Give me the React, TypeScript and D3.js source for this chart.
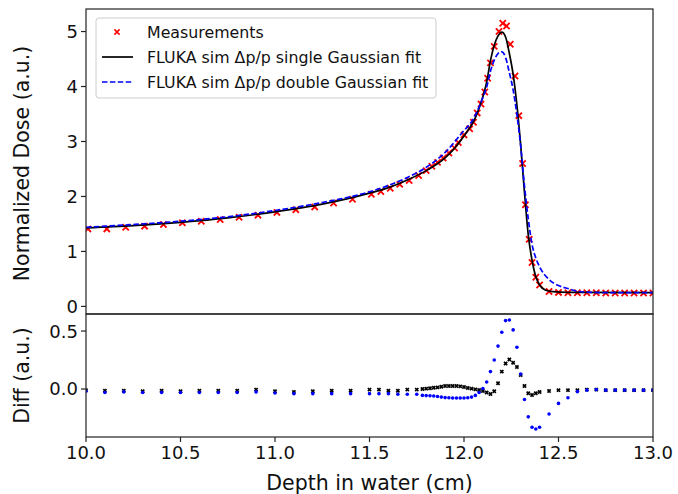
import React from "react";
import * as d3 from "d3";

// ---- data ----
const measDepth = [10.01, 10.11, 10.21, 10.31, 10.41, 10.51, 10.61, 10.71, 10.81, 10.91, 11.01, 11.11, 11.21, 11.31, 11.41, 11.51, 11.56, 11.61, 11.66, 11.71, 11.76, 11.8, 11.83, 11.86, 11.89, 11.92, 11.95, 11.97, 12.0, 12.03, 12.05, 12.07, 12.09, 12.11, 12.125, 12.14, 12.16, 12.185, 12.205, 12.225, 12.245, 12.27, 12.29, 12.31, 12.325, 12.345, 12.36, 12.38, 12.4, 12.45, 12.5, 12.55, 12.6, 12.65, 12.7, 12.75, 12.8, 12.85, 12.9, 12.95, 13.0];
const measDose = [1.41, 1.41, 1.44, 1.46, 1.49, 1.52, 1.55, 1.58, 1.62, 1.66, 1.71, 1.76, 1.81, 1.88, 1.95, 2.04, 2.09, 2.15, 2.22, 2.29, 2.38, 2.47, 2.55, 2.62, 2.7, 2.79, 2.88, 2.98, 3.12, 3.23, 3.35, 3.52, 3.68, 3.9, 4.15, 4.43, 4.73, 5.0, 5.15, 5.1, 4.77, 4.19, 3.47, 2.6, 1.85, 1.22, 0.8, 0.53, 0.39, 0.27, 0.255, 0.25, 0.25, 0.25, 0.25, 0.245, 0.245, 0.245, 0.245, 0.245, 0.245];

const singleDepth = [10.0, 10.25, 10.5, 10.75, 11.0, 11.25, 11.5, 11.6, 11.7, 11.8, 11.9, 12.0, 12.06, 12.1, 12.12, 12.14, 12.16, 12.18, 12.2, 12.22, 12.24, 12.26, 12.28, 12.3, 12.32, 12.34, 12.36, 12.38, 12.4, 12.43, 12.47, 12.55, 13.0];
const singleDose = [1.43, 1.47, 1.53, 1.61, 1.72, 1.86, 2.06, 2.16, 2.3, 2.47, 2.7, 3.1, 3.43, 3.82, 4.08, 4.47, 4.75, 4.92, 4.99, 4.9, 4.6, 4.22, 3.66, 2.93, 2.07, 1.3, 0.84, 0.54, 0.39, 0.3, 0.27, 0.255, 0.25];

const doubleDepth = [10.0, 10.25, 10.5, 10.75, 11.0, 11.25, 11.5, 11.6, 11.7, 11.8, 11.9, 12.0, 12.04, 12.08, 12.1, 12.12, 12.14, 12.16, 12.18, 12.2, 12.22, 12.24, 12.26, 12.28, 12.3, 12.32, 12.34, 12.36, 12.38, 12.4, 12.45, 12.5, 12.55, 12.6, 12.65, 12.75, 13.0];
const doubleDose = [1.44, 1.49, 1.55, 1.63, 1.745, 1.89, 2.085, 2.2, 2.345, 2.53, 2.8, 3.2, 3.36, 3.63, 3.8, 3.99, 4.28, 4.48, 4.6, 4.63, 4.53, 4.25, 3.94, 3.49, 2.92, 2.19, 1.59, 1.13, 0.88, 0.72, 0.49, 0.38, 0.325, 0.275, 0.26, 0.25, 0.25];

const diffDepth = [10.0, 10.1, 10.2, 10.3, 10.4, 10.5, 10.6, 10.7, 10.8, 10.9, 11.0, 11.1, 11.2, 11.3, 11.4, 11.5, 11.55, 11.6, 11.65, 11.7, 11.75,
  11.78, 11.8, 11.82, 11.84, 11.86, 11.88, 11.9, 11.92, 11.94, 11.96, 11.98, 12.0, 12.02, 12.04, 12.06, 12.08, 12.1, 12.12, 12.14, 12.16, 12.18, 12.2, 12.22, 12.24, 12.26, 12.28, 12.3, 12.32, 12.34, 12.36, 12.38, 12.4,
  12.45, 12.5, 12.55, 12.6, 12.65, 12.7, 12.75, 12.8, 12.85, 12.9, 12.95, 13.0];
const diffSingle = [-0.01, -0.015, -0.015, -0.02, -0.015, -0.02, -0.015, -0.015, -0.015, -0.005, -0.02, -0.025, -0.02, -0.015, -0.015, -0.005, -0.005, -0.015, -0.015, -0.005, -0.005,
  0.0, 0.003, 0.006, 0.011, 0.014, 0.02, 0.026, 0.026, 0.026, 0.026, 0.023, 0.017, 0.009, 0.003, -0.003, -0.009, -0.017, -0.03, -0.043, -0.02, 0.05, 0.15, 0.22, 0.255, 0.227, 0.19, 0.12, 0.026, -0.037, -0.052, -0.037, -0.026,
  -0.017, -0.01, -0.01, -0.01, -0.005, -0.005, -0.01, -0.01, -0.01, -0.01, -0.01, -0.01];
const diffDouble = [-0.02, -0.03, -0.025, -0.03, -0.03, -0.03, -0.03, -0.03, -0.03, -0.025, -0.035, -0.04, -0.04, -0.04, -0.04, -0.04, -0.04, -0.04, -0.045, -0.045, -0.045,
  -0.055, -0.057, -0.058, -0.06, -0.065, -0.07, -0.074, -0.076, -0.077, -0.077, -0.077, -0.077, -0.075, -0.07, -0.055, -0.03, 0.005, 0.06, 0.15, 0.25, 0.37, 0.49, 0.59, 0.595, 0.51, 0.36, 0.13, -0.09, -0.24, -0.33, -0.345, -0.33,
  -0.215, -0.124, -0.075, -0.023, -0.01, -0.005, -0.01, -0.01, -0.01, -0.01, -0.01, -0.01];

const xTicks = [10.0, 10.5, 11.0, 11.5, 12.0, 12.5, 13.0];
const topTicks = [0, 1, 2, 3, 4, 5];
const botTicks = [0.0, 0.5];

const legendLabels = ["Measurements", "FLUKA sim \u0394p/p single Gaussian fit", "FLUKA sim \u0394p/p double Gaussian fit"];

export default function App() {
  const W = 678, H = 494;
  const L = 86, R = 653;
  const topT = 9, topB = 314, botT = 314, botB = 437;
  const font = "DejaVu Sans, sans-serif";

  const x = d3.scaleLinear().domain([10, 13]).range([L, R]);
  const yTop = d3.scaleLinear().domain([-0.138, 5.41]).range([topB, topT]);
  const yBot = d3.scaleLinear().domain([-0.414, 0.647]).range([botB, botT]);

  const lineTop = d3.line<[number, number]>().x(d => x(d[0])).y(d => yTop(d[1])).curve(d3.curveMonotoneX);
  const singlePath = lineTop(singleDepth.map((d, i) => [d, singleDose[i]]) as [number, number][]) || "";
  const doublePath = lineTop(doubleDepth.map((d, i) => [d, doubleDose[i]]) as [number, number][]) || "";

  const xMark = (cx: number, cy: number, s: number, color: string, sw: number, key: string) => (
    <path key={key} d={`M${cx - s},${cy - s}L${cx + s},${cy + s}M${cx - s},${cy + s}L${cx + s},${cy - s}`} stroke={color} strokeWidth={sw} fill="none" />
  );

  const tickFont = 18;
  const labelFont = 20.5;

  return (
    <svg width={W} height={H} style={{ position: "absolute", left: 0, top: 0, background: "#fff" }} fontFamily={font}>
      <defs>
        <clipPath id="clipTop"><rect x={L} y={topT} width={R - L} height={topB - topT} /></clipPath>
        <clipPath id="clipBot"><rect x={L} y={botT} width={R - L} height={botB - botT} /></clipPath>
      </defs>
      <rect x={0} y={0} width={W} height={H} fill="#fff" />

      {/* top panel data */}
      <g clipPath="url(#clipTop)">
        {measDepth.map((d, i) => xMark(x(d), yTop(measDose[i]), 3.1, "#ff0000", 1.8, "m" + i))}
        <path d={singlePath} fill="none" stroke="#000" strokeWidth={1.7} />
        <path d={doublePath} fill="none" stroke="#0000ff" strokeWidth={1.7} strokeDasharray="5.5,2.4" />
      </g>

      {/* bottom panel data */}
      <g clipPath="url(#clipBot)">
        {diffDepth.map((d, i) => xMark(x(d), yBot(diffSingle[i]), 1.6, "#000", 1.7, "b" + i))}
        {diffDepth.map((d, i) => <circle key={"c" + i} cx={x(d)} cy={yBot(diffDouble[i])} r={1.8} fill="#0000ff" />)}
      </g>

      {/* frames */}
      <rect x={L} y={topT} width={R - L} height={topB - topT} fill="none" stroke="#222" strokeWidth={1.2} />
      <rect x={L} y={botT} width={R - L} height={botB - botT} fill="none" stroke="#222" strokeWidth={1.2} />

      {/* top y ticks */}
      {topTicks.map(t => (
        <g key={"yt" + t}>
          <line x1={L - 5} x2={L} y1={yTop(t)} y2={yTop(t)} stroke="#222" strokeWidth={1.2} />
          <text x={L - 8} y={yTop(t)} dy="0.36em" textAnchor="end" fontSize={tickFont} fill="#111">{t}</text>
        </g>
      ))}
      {/* bottom y ticks */}
      {botTicks.map(t => (
        <g key={"yb" + t}>
          <line x1={L - 5} x2={L} y1={yBot(t)} y2={yBot(t)} stroke="#222" strokeWidth={1.2} />
          <text x={L - 8} y={yBot(t)} dy="0.36em" textAnchor="end" fontSize={tickFont} fill="#111">{t.toFixed(1)}</text>
        </g>
      ))}
      {/* x ticks */}
      {xTicks.map(t => (
        <g key={"xt" + t}>
          <line x1={x(t)} x2={x(t)} y1={botB} y2={botB + 5} stroke="#222" strokeWidth={1.2} />
          <text x={x(t)} y={botB + 8} dy="0.76em" textAnchor="middle" fontSize={tickFont} fill="#111">{t.toFixed(1)}</text>
        </g>
      ))}

      {/* axis labels */}
      <text x={(L + R) / 2} y={490} textAnchor="middle" fontSize={labelFont} fill="#111">Depth in water (cm)</text>
      <text transform={`translate(29,${(topT + topB) / 2 + 2}) rotate(-90)`} textAnchor="middle" fontSize={labelFont} fill="#111">Normalized Dose (a.u.)</text>
      <text transform={`translate(29,${(botT + botB) / 2}) rotate(-90)`} textAnchor="middle" fontSize={labelFont} fill="#111">Diff (a.u.)</text>

      {/* legend */}
      <g>
        <rect x={96} y={18} width={340} height={80} rx={3} fill="#fff" fillOpacity={0.8} stroke="#cccccc" strokeWidth={1} />
        {xMark(117, 32, 2.6, "#ff0000", 1.6, "lg0")}
        <line x1={102} x2={133} y1={57} y2={57} stroke="#000" strokeWidth={1.7} />
        <line x1={102} x2={133} y1={82} y2={82} stroke="#0000ff" strokeWidth={1.7} strokeDasharray="5.5,2.4" />
        {legendLabels.map((t, i) => (
          <text key={"lt" + i} x={147} y={32 + i * 25} dy="0.36em" fontSize={15.8} fill="#111">{t}</text>
        ))}
      </g>
    </svg>
  );
}
